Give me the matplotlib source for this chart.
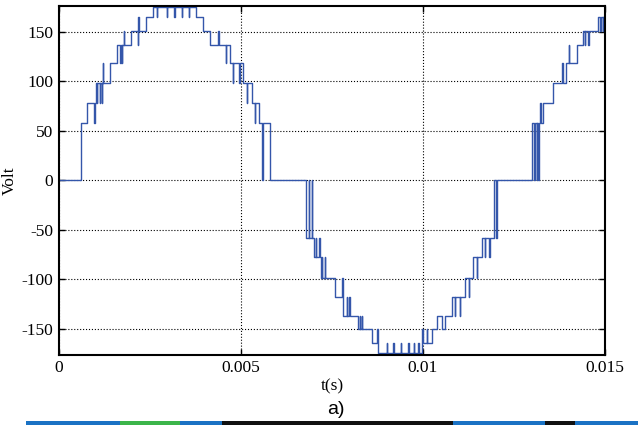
import numpy as np
import matplotlib
matplotlib.use("Agg")
import matplotlib.pyplot as plt
from matplotlib.patches import Rectangle

plt.rcParams["axes.unicode_minus"] = False

# switching instants (s) and the output level (V) held from that instant on
t_sw = [0.0, 0.000604, 0.000777, 0.000970, 0.000984, 0.001003, 0.001036, 0.001052,
        0.001113, 0.001132, 0.001173, 0.001190, 0.001201, 0.001214, 0.001401,
        0.001585, 0.001676, 0.001695, 0.001723, 0.001739, 0.001777, 0.001791,
        0.001978, 0.002162, 0.002176, 0.002184, 0.002198, 0.002382, 0.002591,
        0.002684, 0.002698, 0.002959, 0.002973, 0.003168, 0.003181, 0.003371,
        0.003385, 0.003571, 0.003585, 0.003777, 0.003964, 0.004148, 0.004382,
        0.004409, 0.004580, 0.004596, 0.004698, 0.004772, 0.004786, 0.004945,
        0.004973, 0.005047, 0.005157, 0.005170, 0.005294, 0.005385, 0.005398,
        0.005503, 0.005585, 0.005604, 0.005797,
        # negative half
        0.006786, 0.006868, 0.006882, 0.006951, 0.006964, 0.007005, 0.007052,
        0.007066, 0.007143, 0.007170, 0.007190, 0.007225, 0.007239, 0.007308,
        0.007321, 0.007582, 0.007783, 0.007797, 0.007816, 0.007904, 0.007918,
        0.007981, 0.007995, 0.008206, 0.008269, 0.008283, 0.008324, 0.008338,
        0.008591, 0.008745, 0.008758, 0.008772, 0.009003, 0.009017, 0.009184,
        0.009198, 0.009396, 0.009410, 0.009596, 0.009610, 0.009753, 0.009767,
        0.009871, 0.009885, 0.009981, 0.009995, 0.010102, 0.010115, 0.010255,
        0.010393, 0.010514, 0.010604, 0.010788, 0.010879, 0.010893, 0.011016,
        0.011030, 0.011154, 0.011264, 0.011277, 0.011382, 0.011475, 0.011489,
        0.011613, 0.011703, 0.011717, 0.011821, 0.011835, 0.011951, 0.012005,
        0.012025,
        # next positive half
        0.013003, 0.013058, 0.013071, 0.013124, 0.013137, 0.013159, 0.013187,
        0.013214, 0.013255, 0.013288, 0.013580, 0.013810, 0.013854, 0.013920,
        0.014011, 0.014025, 0.014222, 0.014404, 0.014451, 0.014464, 0.014541,
        0.014555, 0.014816, 0.014871, 0.014885, 0.014937, 0.014951, 0.014992,
        0.015]
v_sw = [0, 58, 78, 58, 78, 98, 78, 98,
        78, 98, 78, 98, 118, 98, 118,
        136.5, 118, 136.5, 118, 136.5, 150.5, 136.5,
        150.5, 136.5, 150.5, 164.5, 150.5, 164.5, 174.5,
        164.5, 174.5, 164.5, 174.5, 164.5, 174.5, 164.5,
        174.5, 164.5, 174.5, 164.5, 150.5, 136.5, 150.5,
        136.5, 118, 136.5, 118, 98, 118, 98,
        118, 98, 78, 98, 78, 58, 78,
        58, 0, 58, 0,
        -58.5, 0, -58.5, 0, -58.5, -78, -58.5,
        -78, -58.5, -78, -98.5, -78, -98.5, -78,
        -98.5, -118, -98.5, -118, -137, -118, -137,
        -118, -137, -150.5, -137, -150.5, -137, -150.5,
        -165, -150.5, -165, -175, -165, -175, -165,
        -175, -165, -175, -165, -175, -165, -175,
        -165, -175, -150.5, -165, -150.5, -165, -150.5,
        -137, -150.5, -137, -118, -137, -118, -137,
        -118, -98.5, -118, -98.5, -78, -98.5, -78,
        -58.5, -78, -58.5, -78, -58.5, 0, -58.5,
        0,
        58, 0, 58, 0, 58, 0, 58,
        78, 58, 78, 98, 118, 98, 118,
        136.5, 118, 136.5, 150.5, 136.5, 150.5, 136.5,
        150.5, 164.5, 150.5, 164.5, 150.5, 164.5, 174.5,
        174.5]

xticks = [0, 0.005, 0.01, 0.015]
xtick_labels = ["0", "0.005", "0.01", "0.015"]
yticks = [-150, -100, -50, 0, 50, 100, 150]

serif = ["Liberation Serif", "DejaVu Serif"]

fig = plt.figure(figsize=(6.38, 4.25), dpi=100)
ax = fig.add_axes([0.0925, 0.165, 0.8555, 0.821])

ax.step(t_sw, v_sw, where="post", color="#3456aa", lw=1.0)

ax.set_xlim(0, 0.015)
ax.set_ylim(-176.5, 176)
ax.set_xticks(xticks)
ax.set_xticklabels(xtick_labels)
ax.set_yticks(yticks)
ax.grid(True, color="k", linestyle=":", lw=0.8)
ax.tick_params(direction="in", top=True, right=True, length=4, width=1,
               labelsize=12.5, pad=4)
for lab in ax.get_xticklabels() + ax.get_yticklabels():
    lab.set_family(serif)
for sp in ax.spines.values():
    sp.set_linewidth(1.5)

ax.set_xlabel("t(s)", family=serif, fontsize=12.5)
ax.xaxis.set_label_coords(0.5, -0.068)
ax.set_ylabel("Volt", family=serif, fontsize=12.5)
ax.yaxis.set_label_coords(-0.075, 0.5)

fig.text(0.527, 0.036, "a)", family=["Liberation Sans", "DejaVu Sans"],
         fontsize=14, ha="center", va="center")

# strip of the next picture, cut off at the bottom edge
strip = [(26, 120, "#1a72c4"), (120, 180, "#3cb54a"), (180, 222, "#1a72c4"),
         (222, 453, "#111111"), (453, 545, "#1a72c4"), (545, 575, "#111111"),
         (575, 638, "#1a72c4")]
for x0, x1, c in strip:
    fig.patches.append(Rectangle((x0 / 638, 0), (x1 - x0) / 638, 4 / 425,
                                 transform=fig.transFigure, color=c, lw=0))

fig.savefig("out.png", dpi=100)
